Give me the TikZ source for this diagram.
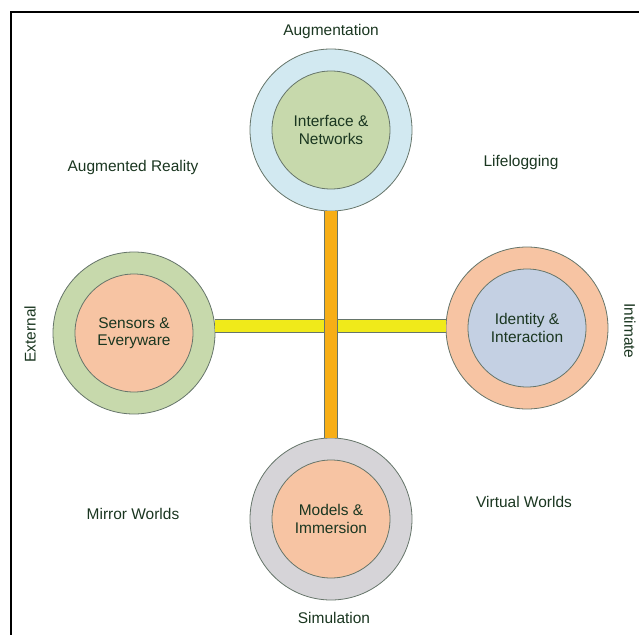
\documentclass[tikz,border=0pt]{standalone}
\usepackage{fontspec}
\setmainfont{Liberation Sans}
\definecolor{labelgreen}{HTML}{1A3620}
\definecolor{edgegray}{HTML}{66756A}
\definecolor{ringblue}{HTML}{D2E9F1}
\definecolor{sage}{HTML}{C7D9AC}
\definecolor{salmon}{HTML}{F7C4A3}
\definecolor{slate}{HTML}{C4D0E3}
\definecolor{ringgray}{HTML}{D6D4D8}
\definecolor{barorange}{HTML}{F7AE16}
\definecolor{baryellow}{HTML}{F0EA1A}
\begin{document}
\begin{tikzpicture}[x=0.75pt,y=-0.75pt,inner sep=0pt,outer sep=0pt,
ring/.style={draw=edgegray,circle,line width=0.6pt,minimum size=121.5pt},
core/.style={draw=edgegray,circle,line width=0.6pt,minimum size=88.5pt,align=center,text=labelgreen,font=\fontsize{11.6}{13}\selectfont},
tag/.style={text=labelgreen,font=\fontsize{11.6}{13}\selectfont},
bar/.style={draw=edgegray,line width=0.5pt,double distance=9pt}]
\useasboundingbox (0,0) rectangle (639,635);
\clip (0,0) rectangle (639,635);
\draw[line width=2pt] (11,650) |- (650,12);
% the four rings
\draw (331,130) node[ring,fill=ringblue] (aug) {};
\draw (331,130) node[core,fill=sage] (augcore) {Interface \&\\Networks};
\draw (134,333) node[ring,fill=sage] (ext) {};
\draw (134,333) node[core,fill=salmon] (extcore) {Sensors \&\\Everyware};
\draw (527,328) node[ring,fill=salmon] (int) {};
\draw (527,328) node[core,fill=slate] (intcore) {Identity \&\\Interaction};
\draw (331,519) node[ring,fill=ringgray] (sim) {};
\draw (331,519) node[core,fill=salmon] (simcore) {Models \&\\Immersion};
% axes
\draw[bar,double=baryellow] (ext.5) -- (ext.5 -| int.west);
\draw[bar,double=barorange] (aug.south) -- (sim.north);
% labels
\draw (331,32) node[tag] (augtag) {Augmentation};
\draw (334,618) node[tag] (simtag) {Simulation};
\draw (30,334) node[tag,rotate=90] (exttag) {External};
\draw (630,331) node[tag,rotate=-90] (inttag) {Intimate};
\draw (133,167) node[tag] (ar) {Augmented Reality};
\draw (521,163) node[tag] (life) {Lifelogging};
\draw (133,514) node[tag] (mirror) {Mirror Worlds};
\draw (524,502) node[tag] (virtual) {Virtual Worlds};
\end{tikzpicture}
\end{document}
